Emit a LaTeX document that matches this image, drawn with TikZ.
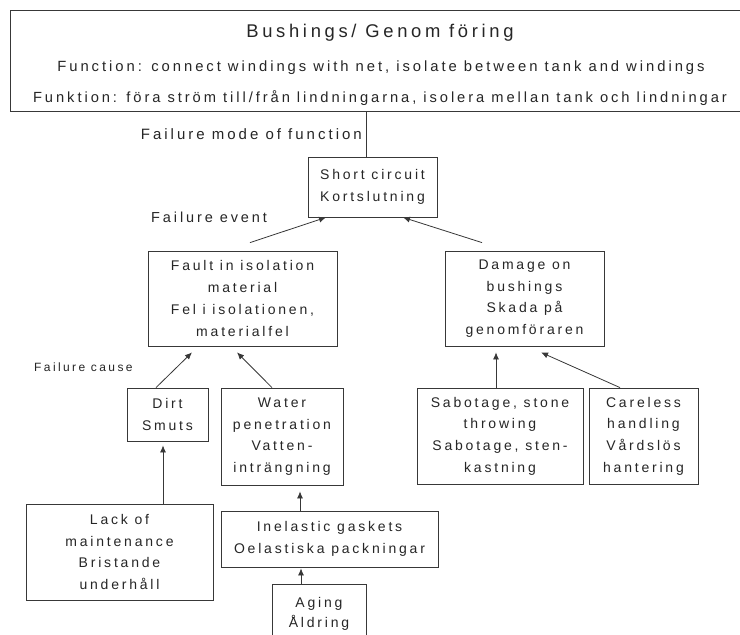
\documentclass[tikz,border=0pt]{standalone}
\usepackage{fontspec}
\setmainfont{Liberation Sans}[LetterSpace=20]
\usetikzlibrary{arrows.meta,positioning}

\tikzset{
  box/.style={draw=black!78, line width=0.8pt, rectangle, align=center,
    text=black!85, font=\fontsize{14}{21.7}\selectfont, inner sep=0pt},
  lbl/.style={text=black!85, font=\fontsize{14}{17}\selectfont, inner sep=0pt},
  link/.style={draw=black!78, line width=0.8pt},
  arr/.style={link, -{Latex[length=7pt,width=6pt]}}
}

\begin{document}
\begin{tikzpicture}[x=1pt,y=-1pt]
\useasboundingbox (0,0) rectangle (740,635);
\fill[white] (0,0) rectangle (740,635);

% component header
\node[box, minimum width=740pt, minimum height=101pt] (bushing) at (380,60.5) {};
\node[lbl, font=\fontsize{18.4}{20}\selectfont] (title) at (380,33) {Bushings/ Genom föring};
\node[lbl, font=\fontsize{14.8}{17}\selectfont] (funcen) at (381,68) {Function: connect windings with net, isolate between tank and windings};
\node[lbl, font=\fontsize{14.7}{17}\selectfont] (funcsv) at (380,98) {Funktion: föra ström  till/från lindningarna, isolera mellan tank och lindningar};

% failure mode
\node[box, minimum width=129pt, minimum height=60pt] (short) at (372.5,187) {Short circuit\\Kortslutning};

% failure events
\node[box, minimum width=189pt, minimum height=95pt] (fault) at (242.5,298.5)
  {Fault in isolation\\material\\Fel i isolationen,\\materialfel};
\node[box, minimum width=159pt, minimum height=95pt] (damage) at (524.5,298.5)
  {Damage on\\bushings\\Skada på\\genomföraren};

% failure causes
\node[box, minimum width=81pt, minimum height=53pt] (dirt) at (167.5,414.5) {Dirt\\Smuts};
\node[box, minimum width=122pt, minimum height=97pt] (water) at (282,436.5)
  {Water\\penetration\\Vatten-\\inträngning};
\node[box, minimum width=166pt, minimum height=96pt] (sabotage) at (500,436)
  {Sabotage, stone\\throwing\\Sabotage, sten-\\kastning};
\node[box, minimum width=109pt, minimum height=96pt] (careless) at (643.5,436)
  {Careless\\handling\\Vårdslös\\hantering};

% root causes
\node[box, minimum width=187pt, minimum height=96pt] (lack) at (119.5,552)
  {Lack of\\maintenance\\Bristande\\underhåll};
\node[box, minimum width=217pt, minimum height=56pt] (inelastic) at (329.5,539)
  {Inelastic gaskets\\Oelastiska packningar};
\node[box, minimum width=94pt, minimum height=70pt, anchor=north] (aging) at (319,584) {};
\node[lbl, align=center, font=\fontsize{14}{20}\selectfont] (agingtext) at (319,614) {Aging\\Åldring};

% level labels
\node[lbl, anchor=east, font=\fontsize{15}{17}\selectfont] (lblmode) at (362,134) {Failure mode of function};
\node[lbl, anchor=west, font=\fontsize{14.5}{17}\selectfont] (lblevent) at (151,217) {Failure event};
\node[lbl, anchor=west, font=\fontsize{12}{14}\selectfont] (lblcause) at (34,367) {Failure cause};

% connectors
\draw[link] ([xshift=-6.5pt]short.north) -- ([xshift=-6.5pt]short.north |- bushing.south);

\draw[arr] ([xshift=7.5pt,yshift=8pt]fault.north) -- ([xshift=-46.5pt]short.south);
\draw[arr] ([xshift=-42.5pt,yshift=8pt]damage.north) -- ([xshift=30.5pt]short.south);

\draw[arr] ([xshift=-11.5pt]dirt.north) -- ([xshift=-50.5pt,yshift=-6pt]fault.south);
\draw[arr] ([xshift=-10pt]water.north) -- ([xshift=-5.5pt,yshift=-6pt]fault.south);
\draw[arr] ([xshift=-4pt]sabotage.north) -- ([xshift=-28.5pt,yshift=-6pt]damage.south);
\draw[arr] ([xshift=-23.5pt]careless.north) -- ([xshift=16.5pt,yshift=-6pt]damage.south);

\draw[arr] ([xshift=43.5pt]lack.north) -- ([xshift=-4.5pt,yshift=-4pt]dirt.south);
\draw[arr] ([xshift=-29.5pt]inelastic.north) -- ([xshift=18pt,yshift=-6pt]water.south);
\draw[arr] ([xshift=-18pt]aging.north) -- ([xshift=-28.5pt,yshift=-1pt]inelastic.south);
\end{tikzpicture}
\end{document}
